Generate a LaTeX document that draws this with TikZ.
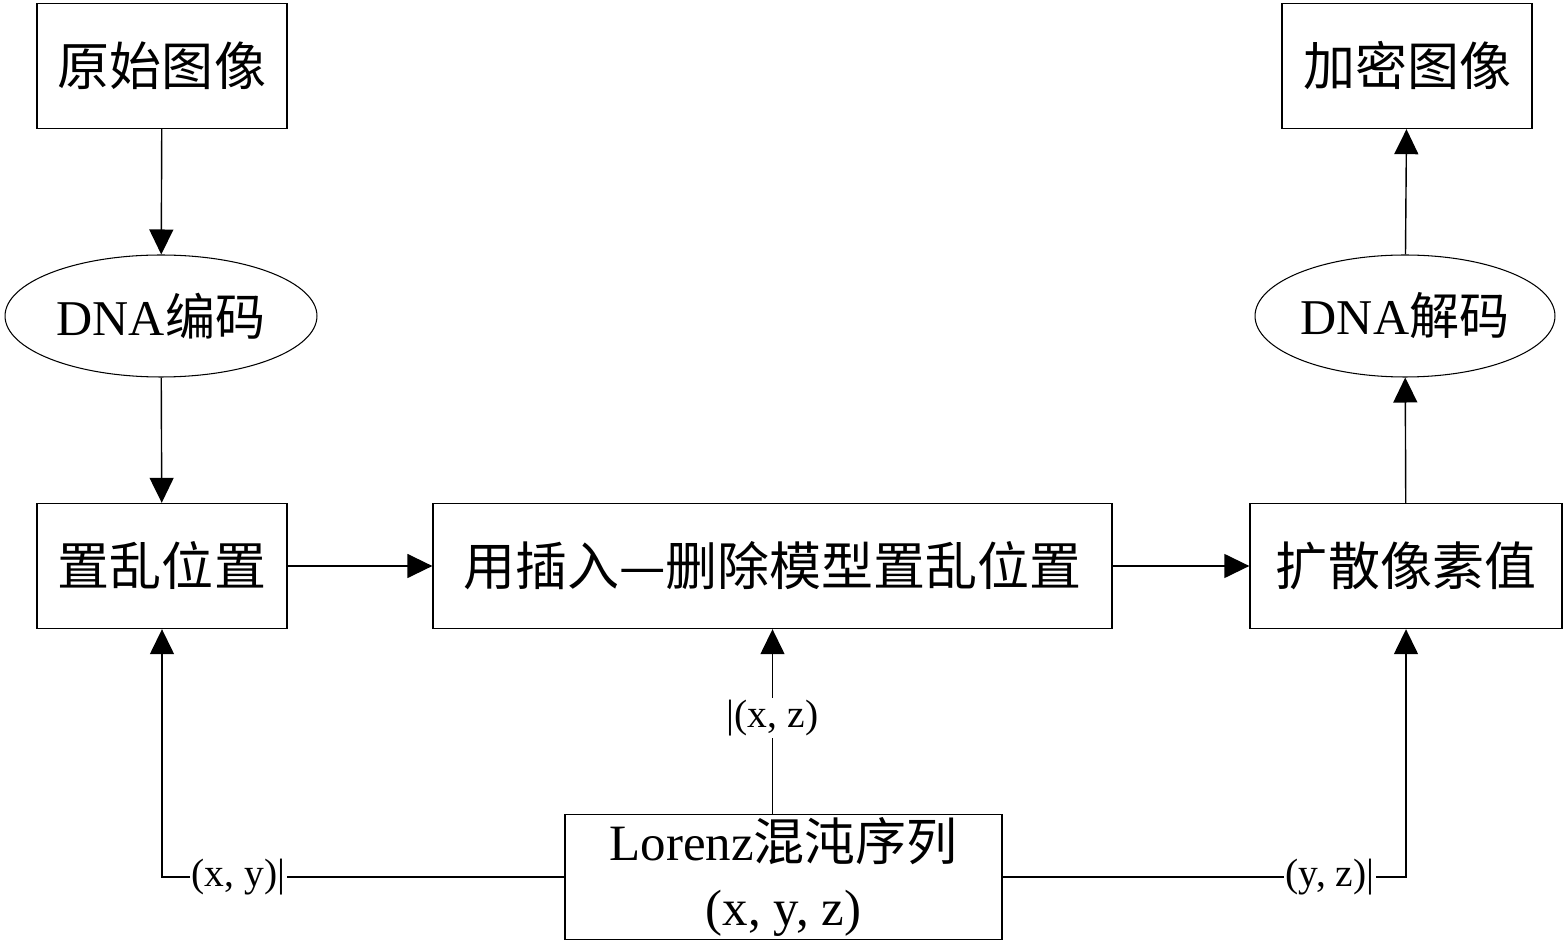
\documentclass[tikz,border=0pt]{standalone}
\usepackage{fontspec}
\setmainfont{Liberation Serif}
\newfontfamily\cjk{Noto Sans CJK SC}
\usetikzlibrary{arrows.meta}
\usetikzlibrary{shapes.geometric}
\tikzset{>={Triangle[length=0.5cm,width=0.48cm]}}
\tikzstyle{step box}=[draw=black,line width=0.8pt,minimum height=2.5cm,inner sep=0pt,
                      font=\fontsize{29.6}{34}\selectfont\cjk]
\tikzstyle{step ellipse}=[draw=black,line width=0.6pt,ellipse,minimum height=2.44cm,inner sep=0pt,
                          font=\fontsize{28.5}{34}\selectfont]
\tikzstyle{flow}=[->,draw=black,line width=0.8pt]
\tikzstyle{seq label}=[fill=white,inner sep=1pt,font=\fontsize{22.5}{26}\selectfont]

\begin{document}
\begin{tikzpicture}[x=0.02cm,y=-0.02cm]
        \useasboundingbox (0,0) rectangle (1566,945);

        % TOP ROW
        \node[step box, minimum width=5cm] (orig) at (162,66) {原始图像};
        \node[step box, minimum width=5cm] (enc) at (1407,66) {加密图像};

        % DNA CODING
        \node[step ellipse, minimum width=6.24cm] (dnaenc) at (161,316) {DNA{\cjk 编码}};
        \node[step ellipse, minimum width=6cm] (dnadec) at (1405,316) {DNA{\cjk 解码}};

        % MIDDLE ROW
        \node[step box, minimum width=5cm] (perm) at (162,566) {置乱位置};
        \node[step box, minimum width=13.58cm] (insdel) at (772.5,566) {用插入—删除模型置乱位置};
        \node[step box, minimum width=6.24cm] (diff) at (1406,566) {扩散像素值};

        % CHAOTIC SEQUENCE
        \node[step box, minimum width=8.74cm, align=center, font=\fontsize{29}{37.5}\selectfont]
          (lorenz) at (783.5,877) {Lorenz{\cjk 混沌序列}\\(x, y, z)};

        % ARROWS
        \draw[flow] (orig) -- (dnaenc);
        \draw[flow] (dnaenc) -- (perm);
        \draw[flow] (perm) -- (insdel);
        \draw[flow] (insdel) -- (diff);
        \draw[flow] (diff) -- (dnadec);
        \draw[flow] (dnadec) -- (enc);

        % KEY STREAMS
        \draw[flow] (lorenz.west) -| (perm.south)
          node[seq label, pos=0.405] {(x, y)|};
        \draw[flow] (lorenz.north -| insdel.south) -- (insdel.south)
          node[seq label, pos=0.52] {|(x, z)};
        \draw[flow] (lorenz.east) -| (diff.south)
          node[seq label, pos=0.406] {(y, z)|};

    \end{tikzpicture}
\end{document}
